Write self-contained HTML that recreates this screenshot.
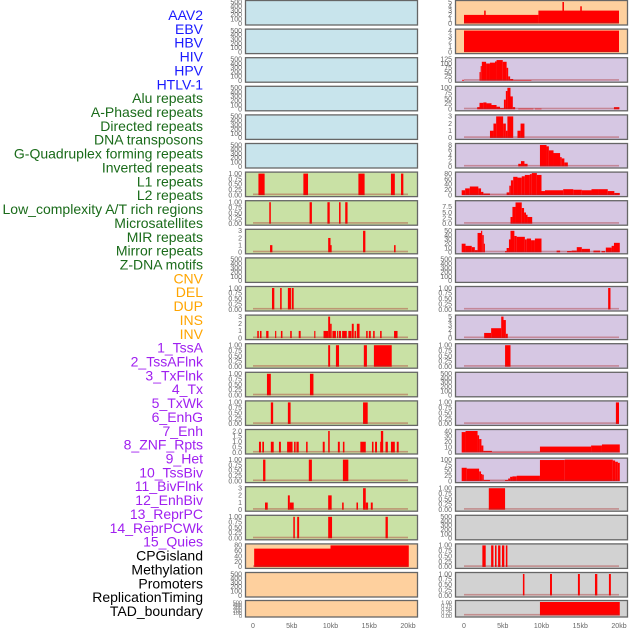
<!DOCTYPE html>
<html><head><meta charset="utf-8"><style>
html,body{margin:0;padding:0;background:#fff;}
svg{display:block;font-family:"Liberation Sans",sans-serif;}
</style></head><body>
<svg id="chart" width="630" height="630" viewBox="0 0 630 630"></svg>
<script>
// ---------- data ----------
const trackLabels = ["AAV2","EBV","HBV","HIV","HPV","HTLV-1","Alu repeats","A-Phased repeats","Directed repeats","DNA transposons","G-Quadruplex forming repeats","Inverted repeats","L1 repeats","L2 repeats","Low_complexity A/T rich regions","Microsatellites","MIR repeats","Mirror repeats","Z-DNA motifs","CNV","DEL","DUP","INS","INV","1_TssA","2_TssAFlnk","3_TxFlnk","4_Tx","5_TxWk","6_EnhG","7_Enh","8_ZNF_Rpts","9_Het","10_TssBiv","11_BivFlnk","12_EnhBiv","13_ReprPC","14_ReprPCWk","15_Quies","CPGisland","Methylation","Promoters","ReplicationTiming","TAD_boundary"];
const labelGroups = ["virus","virus","virus","virus","virus","virus","repeat","repeat","repeat","repeat","repeat","repeat","repeat","repeat","repeat","repeat","repeat","repeat","repeat","sv","sv","sv","sv","sv","chrom","chrom","chrom","chrom","chrom","chrom","chrom","chrom","chrom","chrom","chrom","chrom","chrom","chrom","chrom","other","other","other","other","other"];
const T500=[0,100,200,300,400,500], T1=[0,0.25,0.5,0.75,1], T3=[0,1,2,3];
const trackTicks = [T500,T500,T500,T500,T500,T500,T1,T1,T3,T500,T1,T3,T1,T1,T1,[0,0.5,1,1.5,2],T1,T3,T1,[0,20,40,60,80],T500,T500,
 [0,1,2,3,4,5],[0,1,2,3,4],[0,25,50,75,100,125],[0,25,50,75,100],T3,[0,2,4,6,8],[0,20,40,60,80],[0,2.5,5,7.5],[0,10,20,30,40,50],T500,T1,[0,1,2,3,4,5],T1,T500,T1,[0,10,20,30,40],[0,25,50,75,100],T1,T500,T1,T1,T1];
const tickDecimals = [0,0,0,0,0,0,2,2,0,0,2,0,2,2,2,1,2,0,2,0,0,0, 0,0,0,0,0,0,0,1,0,0,2,0,2,0,2,0,0,2,0,2,2,2];
const trackYMax = [500,500,500,500,500,500,1,1,3,500,1,3,1,1,1,2,1,3,1,80,500,500, 5,4,125,100,3,8,80,9.6,50,500,1,5,1,500,1,40,100,1,500,1,1,1];
// segments: [startKb, endKb, value]
const trackBars = [
 [],[],[],[],[],[],
 [[0.7,1.5,1],[6.5,7.1,1],[13.6,14.4,1],[17.8,18.3,1],[19.1,19.4,1]],
 [[2.1,2.3,1],[7.3,7.6,1],[9.6,9.9,1],[11.1,11.3,1],[11.9,12.2,1]],
 [[2.2,2.5,1],[9.7,10.0,2],[10.0,10.15,1],[14.2,14.5,3],[18.2,18.4,1]],
 [],
 [[2.45,2.75,1],[3.5,3.7,1],[4.5,4.9,1],[5.0,5.25,1]],
 [[0.55,0.75,1],[0.9,1.1,1],[1.7,2.0,1],[2.85,3.0,1],[3.6,3.8,1],[4.8,5.0,1],[5.9,6.15,1],[7.9,8.05,1],[9.1,9.7,1],[9.7,9.95,3],[9.95,10.15,2],[10.25,10.7,1],[10.85,11.0,1],[11.1,11.35,1],[11.5,12.1,1],[12.3,12.7,1],[12.75,13.0,2],[13.1,13.3,1],[13.4,13.75,2],[14.6,14.8,1],[14.95,15.2,1],[15.5,15.7,1],[16.4,16.6,1],[18.2,18.65,1]],
 [[9.7,9.95,1],[10.7,11.1,1],[14.3,14.7,1],[15.6,17.9,1]],
 [[1.8,2.3,1],[7.35,7.8,1]],
 [[2.3,2.6,1],[4.5,4.85,1],[14.2,14.8,1]],
 [[0.77,1.03,1],[1.2,1.42,1],[2.3,2.67,1],[3.35,3.6,1],[4.4,5.1,1],[5.3,5.5,1],[5.6,5.9,1],[6.85,7.05,1],[9.0,9.25,1],[9.7,9.9,2],[10.95,11.2,1],[11.6,11.8,1],[13.85,14.55,1],[15.35,15.55,1],[15.75,16.0,1],[16.4,16.5,1],[16.5,16.8,2],[17.1,17.4,1],[17.8,18.3,1],[18.55,18.8,1]],
 [[1.3,1.6,1],[7.2,7.6,1],[11.6,12.3,1]],
 [[1.55,1.9,1],[4.5,4.75,2],[4.75,5.25,1],[9.7,10.15,2],[11.5,11.7,1],[13.35,13.55,1],[14.2,14.55,3],[14.55,14.85,1],[15.2,15.45,1]],
 [[5.2,5.4,1],[5.7,5.95,1],[9.7,10.2,1],[17.1,17.4,1]],
 [[0.15,10,68],[10,20.1,80]],
 [],[],
 [[0,9.6,2],[2.6,2.8,3],[9.6,20,3],[12.7,12.9,5],[15.0,15.2,4]],
 [[0,20,4]],
 [[-0.25,0,5],[2.0,2.15,50],[2.15,2.3,85],[2.3,2.85,110],[2.85,3.35,100],[3.35,4.0,105],[4.0,4.2,112],[4.2,5.0,120],[5.0,5.5,110],[5.5,5.7,75],[5.7,5.95,25],[5.95,6.35,10],[6.35,8.7,3]],
 [[1.7,2.0,10],[2.0,2.5,30],[2.5,2.9,32],[2.9,3.55,28],[3.55,4.2,20],[4.2,4.65,12],[4.65,5.15,5],[5.15,5.4,45],[5.4,5.6,85],[5.6,6.0,100],[6.0,6.3,60],[6.3,6.6,10],[7.0,8.95,3],[9.15,10.0,3],[19.35,20.05,10]],
 [[3.35,3.8,1],[3.8,4.15,2],[4.15,5.05,3],[5.05,5.4,2],[5.4,5.6,1],[5.6,6.35,3],[6.9,7.3,1],[7.3,7.8,2]],
 [[7.0,7.35,1],[7.35,7.8,2],[7.8,8.2,1],[9.8,10.65,8],[10.65,10.95,7.5],[10.95,11.55,6],[11.55,12.4,5],[12.4,12.6,3.5],[12.6,12.95,3],[12.95,13.4,1.5]],
 [[-0.3,0.15,18],[0.15,0.75,25],[0.75,1.85,32],[1.85,2.2,25],[2.2,2.5,12],[2.5,3.35,6],[3.35,5.5,1],[5.5,5.85,10],[5.85,6.05,35],[6.05,6.35,55],[6.35,6.9,68],[6.9,7.45,65],[7.45,7.85,70],[7.85,8.5,75],[8.5,8.75,78],[8.75,9.4,82],[9.4,10.0,75],[10.0,10.45,15],[10.45,12.8,18],[12.8,14.1,22],[14.1,15.2,20],[15.2,16.45,18],[16.45,17.35,22],[17.35,18.55,22],[18.55,19.4,15],[19.4,20.1,8]],
 [[6.0,6.25,3],[6.25,6.65,7.5],[6.65,7.45,9.5],[7.45,7.75,7],[7.75,8.0,5],[8.0,8.2,4],[8.2,8.8,3]],
 [[-0.3,0.2,20],[0.2,1.0,15],[1.0,1.4,12],[1.4,1.75,5],[1.75,2.2,45],[2.2,2.35,50],[2.35,2.55,40],[2.55,2.7,20],[5.3,5.5,3],[5.5,5.8,10],[5.8,6.0,30],[6.0,6.5,50],[6.5,6.8,38],[6.8,7.85,36],[7.85,8.1,30],[8.1,8.65,32],[8.65,9.15,28],[9.15,10.0,32],[11.95,12.4,4],[13.3,13.9,3],[13.9,14.55,4],[14.55,15.2,12],[15.2,15.55,8],[15.55,16.25,8],[16.7,17.55,4],[17.75,18.2,3],[18.3,19.05,11],[19.05,19.35,15],[19.35,20.1,22]],
 [],
 [[18.6,18.9,1]],
 [[2.6,3.5,1.2],[3.5,4.8,2.3],[4.8,5.1,5],[5.1,5.4,4.2],[5.4,5.65,1]],
 [[5.3,6.0,1]],
 [],
 [[19.6,20.0,1]],
 [[-0.3,0.2,38],[0.2,1.75,40],[1.75,1.95,32],[1.95,2.25,25],[2.25,2.5,13],[2.5,3.6,3],[3.6,9.8,1],[9.8,16.4,11],[16.4,17.8,13],[17.8,20.1,15]],
 [[-0.3,0.35,62],[0.35,1.95,58],[1.95,2.2,45],[2.2,2.35,33],[2.35,2.55,30],[2.55,3.35,5],[3.35,5.3,1],[5.3,5.7,5],[5.7,5.95,12],[5.95,6.25,20],[6.25,6.8,22],[6.8,9.8,25],[9.8,13.0,98],[13.0,19.2,100],[19.2,19.5,96],[19.5,19.85,90],[19.85,20.1,85]],
 [[3.2,5.3,1]],
 [],
 [[2.37,2.8,1],[3.5,3.8,1],[4.0,4.2,1],[4.4,4.7,1],[4.9,5.2,1],[5.4,5.6,1]],
 [[7.6,7.8,1],[11.1,11.35,1],[14.7,14.95,1],[16.9,17.2,1],[18.7,18.95,1]],
 [[9.8,20.1,1]]
];
const xTickValues=[0,5,10,15,20];
const xTickLabels=["0","5kb","10kb","15kb","20kb"];

// ---------- layout ----------
const NS="http://www.w3.org/2000/svg";
const svg=document.getElementById('chart');
function mk(tag,attrs,parent){const e=document.createElementNS(NS,tag);for(const k in attrs)e.setAttribute(k,attrs[k]);(parent||svg).appendChild(e);return e;}
const groupColor={virus:"#1a1aff",repeat:"#1a6b1a",sv:"#ffa500",chrom:"#a020f0",other:"#000000"};
const bgColor={virus:"#c8e4ec",repeat:"#c9e1a5",sv:"#fed09e",chrom:"#d6c7e3",other:"#d2d2d2"};
const colBox=[[245,417],[455,627]];
const colZero=[253,464];
const pxPerKb=7.75;
function rowTop(r){return r<21?r*28.6:600;}
function rowH(r){return r<21?25.5:17.5;}

trackLabels.forEach((t,i)=>{
  const el=mk('text',{x:203,y:15+i*13.86+5,'text-anchor':'end','font-size':14,fill:groupColor[labelGroups[i]]});
  
  
  el.textContent=t;
});

trackLabels.forEach((t,i)=>{
  const col=i<22?0:1, r=i%22;
  const top=rowTop(r), h=rowH(r);
  const [x0,x1]=colBox[col];
  const g=mk('g',{});
  
  
  const bg=mk('rect',{x:x0+0.5,y:top+0.5,width:x1-x0,height:h-1,fill:bgColor[labelGroups[i]],stroke:'#666','stroke-width':1.3},g);
  
  
  const yBot=top+h-2, yTop=top+2;
  const ymax=trackYMax[i];
  const yS=v=>yBot-(v/ymax)*(yBot-yTop);
  const xS=kb=>colZero[col]+kb*pxPerKb;
  const bars=trackBars[i];
  bars.forEach(b=>{
    const y=yS(b[2]);
    const rc=mk('rect',{x:xS(b[0]),y:y,width:Math.max(0.8,xS(b[1])-xS(b[0])),height:yBot-y,fill:'#ff0000'},g);
    
    
  });
  if(bars.length){
    const bl=mk('rect',{x:xS(0),y:yBot-1.6,width:xS(20)-xS(0),height:1.6,fill:'rgba(170,40,40,0.4)'},g);
    
    
  }
  trackTicks[i].forEach(v=>{
    const tx=mk('text',{x:x0-3,y:yS(v)+2.3,'text-anchor':'end','font-size':h<20?5.5:7,fill:'#666'},g);
    
    
    tx.textContent=v.toFixed(tickDecimals[i]);
  });
});

[0,1].forEach(col=>{
  xTickValues.forEach((v,j)=>{
    const tx=mk('text',{x:colZero[col]+v*pxPerKb,y:628,'text-anchor':'middle','font-size':7,fill:'#666'});
    
    
    tx.textContent=xTickLabels[j];
  });
});
</script>
</body></html>
